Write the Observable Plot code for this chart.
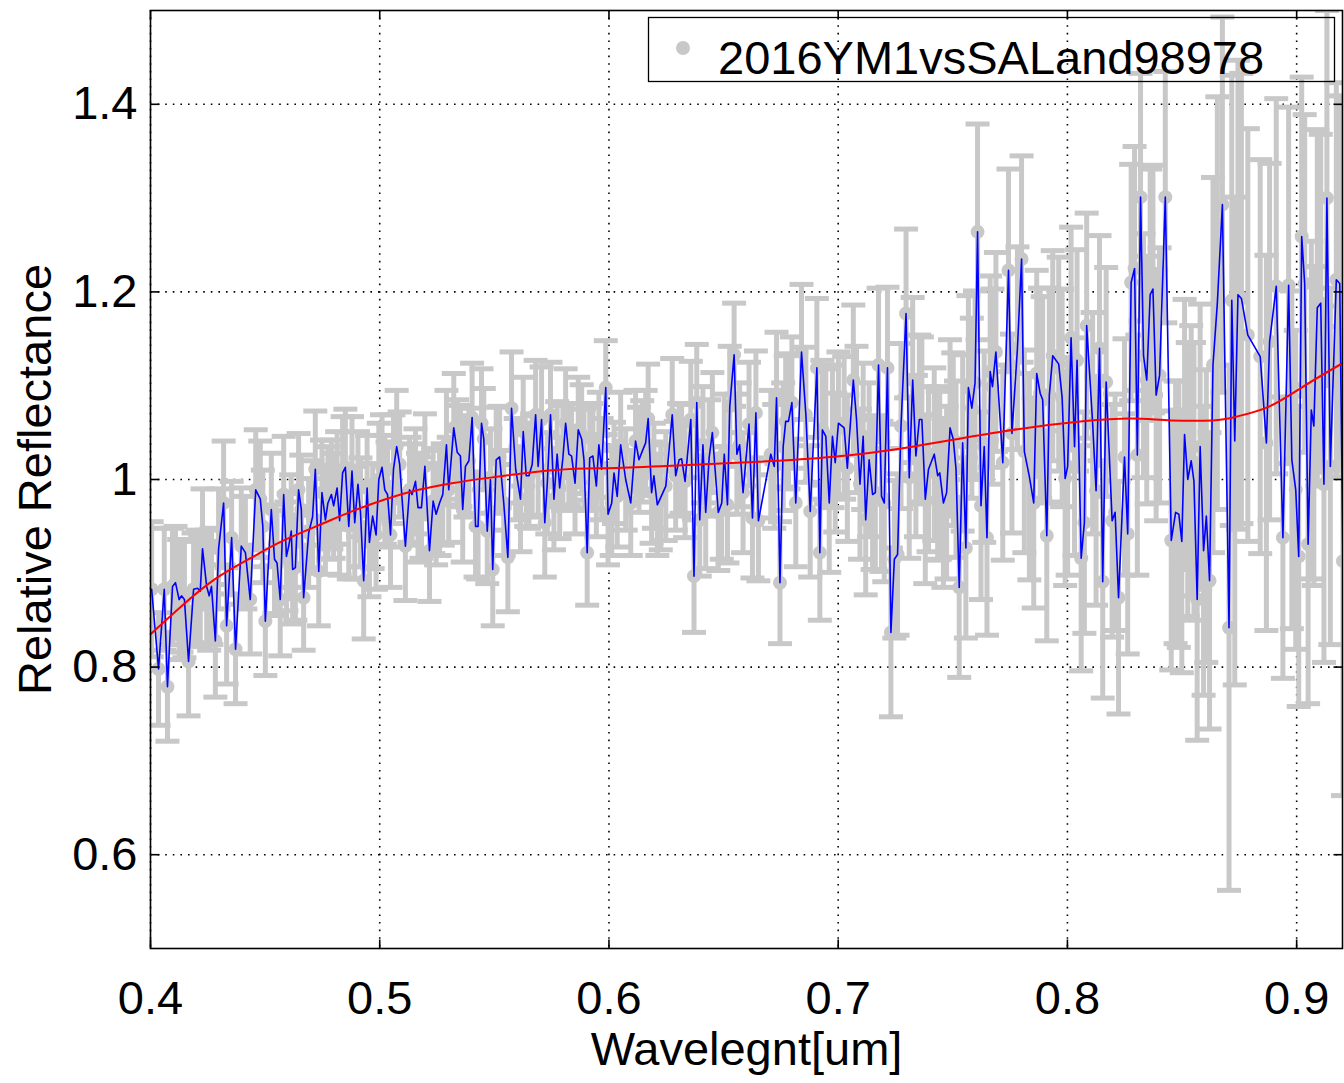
<!DOCTYPE html>
<html>
<head>
<meta charset="utf-8">
<script src="https://cdn.jsdelivr.net/npm/d3@7"></script>
<script src="https://cdn.jsdelivr.net/npm/@observablehq/plot@0.6"></script>
<style>
  html, body { margin: 0; padding: 0; background: #fff; }
  #chart { position: relative; width: 1344px; height: 1083px; }
</style>
</head>
<body>
<div id="chart"></div>
<script>
// ---- data ----
const legendLabel = "2016YM1vsSALand98978";
const xLabel = "Wavelegnt[um]";
const yLabel = "Relative Reflectance";
const xDomain = [0.4, 0.92];
const yDomain = [0.5, 1.5];
const xTicks = [0.4, 0.5, 0.6, 0.7, 0.8, 0.9];
const yTicks = [0.6, 0.8, 1.0, 1.2, 1.4];
const xTickLabels = ["0.4", "0.5", "0.6", "0.7", "0.8", "0.9"];
const yTickLabels = ["0.6", "0.8", "1", "1.2", "1.4"];

const wavelength = [
  0.4005,0.4035,0.4060,0.4074,0.4096,0.4109,0.4125,0.4135,0.4148,0.4166,
  0.4188,0.4205,0.4217,0.4227,0.4245,0.4256,0.4266,0.4283,0.4297,0.4319,
  0.4332,0.4354,0.4371,0.4396,0.4414,0.4435,0.4459,0.4479,0.4490,0.4501,
  0.4527,0.4541,0.4552,0.4566,0.4581,0.4593,0.4603,0.4614,0.4620,0.4632,
  0.4646,0.4658,0.4668,0.4690,0.4707,0.4719,0.4734,0.4748,0.4763,0.4774,
  0.4789,0.4799,0.4814,0.4825,0.4838,0.4850,0.4865,0.4879,0.4891,0.4905,
  0.4916,0.4930,0.4945,0.4955,0.4969,0.4984,0.4996,0.5010,0.5022,0.5034,
  0.5047,0.5060,0.5074,0.5087,0.5112,0.5130,0.5141,0.5156,0.5167,0.5182,
  0.5197,0.5217,0.5233,0.5246,0.5261,0.5275,0.5291,0.5301,0.5323,0.5338,
  0.5352,0.5362,0.5374,0.5389,0.5403,0.5418,0.5429,0.5444,0.5454,0.5469,
  0.5483,0.5493,0.5508,0.5523,0.5541,0.5559,0.5575,0.5593,0.5614,0.5626,
  0.5639,0.5651,0.5665,0.5680,0.5691,0.5706,0.5720,0.5731,0.5745,0.5760,
  0.5774,0.5785,0.5799,0.5811,0.5825,0.5837,0.5852,0.5866,0.5881,0.5891,
  0.5905,0.5916,0.5930,0.5945,0.5956,0.5968,0.5986,0.5996,0.6012,0.6022,
  0.6036,0.6051,0.6073,0.6095,0.6116,0.6131,0.6145,0.6160,0.6171,0.6186,
  0.6196,0.6211,0.6226,0.6248,0.6276,0.6291,0.6306,0.6317,0.6332,0.6357,
  0.6371,0.6383,0.6396,0.6410,0.6422,0.6437,0.6451,0.6477,0.6492,0.6503,
  0.6517,0.6527,0.6546,0.6558,0.6570,0.6585,0.6611,0.6626,0.6641,0.6652,
  0.6706,0.6721,0.6731,0.6746,0.6760,0.6771,0.6783,0.6798,0.6815,0.6840,
  0.6859,0.6878,0.6907,0.6920,0.6931,0.6946,0.6961,0.6975,0.6987,0.7001,
  0.7026,0.7040,0.7066,0.7080,0.7095,0.7109,0.7120,0.7135,0.7150,0.7162,
  0.7176,0.7189,0.7201,0.7215,0.7230,0.7245,0.7259,0.7274,0.7296,0.7310,
  0.7325,0.7339,0.7354,0.7365,0.7380,0.7394,0.7419,0.7434,0.7443,0.7459,
  0.7473,0.7488,0.7502,0.7514,0.7528,0.7543,0.7557,0.7568,0.7583,0.7597,
  0.7608,0.7623,0.7637,0.7649,0.7663,0.7673,0.7688,0.7718,0.7743,0.7758,
  0.7782,0.7800,0.7812,0.7834,0.7853,0.7866,0.7881,0.7892,0.7910,0.7921,
  0.7936,0.7962,0.7977,0.7990,0.8001,0.8016,0.8031,0.8042,0.8060,0.8074,
  0.8084,0.8110,0.8125,0.8140,0.8154,0.8169,0.8195,0.8208,0.8223,0.8249,
  0.8263,0.8278,0.8293,0.8305,0.8319,0.8332,0.8346,0.8361,0.8373,0.8387,
  0.8402,0.8427,0.8453,0.8472,0.8486,0.8499,0.8511,0.8525,0.8540,0.8552,
  0.8566,0.8579,0.8594,0.8606,0.8620,0.8635,0.8654,0.8676,0.8705,0.8717,
  0.8730,0.8744,0.8759,0.8787,0.8841,0.8868,0.8882,0.8911,0.8940,0.8965,
  0.8979,0.8996,0.9009,0.9022,0.9035,0.9050,0.9064,0.9075,0.9090,0.9105,
  0.9119,0.9132,0.9147,0.9173,0.9188,0.9202
];

const reflectance = [
  0.883,0.798,0.883,0.779,0.886,0.890,0.872,0.876,0.872,0.806,
  0.883,0.884,0.881,0.926,0.886,0.876,0.886,0.828,0.926,0.975,
  0.844,0.938,0.819,0.929,0.922,0.872,0.989,0.979,0.950,0.849,
  0.968,0.915,0.911,0.872,0.984,0.918,0.929,0.945,0.904,0.906,
  0.989,0.968,0.874,0.943,0.960,1.011,0.902,0.986,0.957,0.975,
  0.984,0.972,0.991,0.956,1.007,1.013,0.950,1.009,0.954,0.995,
  0.965,0.892,0.991,0.933,0.961,0.941,1.000,1.013,0.989,0.984,
  0.941,1.011,1.035,1.016,0.929,0.989,0.984,0.998,0.970,0.970,
  1.014,0.924,0.977,0.963,0.975,0.984,1.037,0.989,1.055,1.029,
  1.025,0.968,1.014,1.020,1.066,0.950,0.950,1.060,1.043,0.945,
  1.000,0.904,1.021,1.024,0.975,0.917,1.076,1.011,0.979,1.051,
  1.004,1.004,1.016,1.069,1.014,1.064,0.954,0.996,1.069,0.979,
  1.027,0.991,1.023,1.060,1.027,1.025,0.996,1.053,1.043,1.021,
  0.922,1.023,1.025,0.993,1.037,1.011,1.098,0.963,0.975,1.007,
  0.982,1.037,1.000,0.975,1.041,1.021,1.030,1.039,1.065,0.986,
  1.004,0.973,0.981,0.993,1.069,1.004,1.021,1.022,0.998,1.064,
  0.897,1.082,0.957,1.037,0.965,1.023,1.050,0.965,0.975,1.027,
  0.973,1.078,1.133,1.027,1.037,0.986,1.059,0.959,1.071,0.956,
  1.027,1.014,1.087,0.890,1.035,1.062,1.062,1.082,0.975,1.136,
  1.069,0.966,1.119,0.922,1.053,1.046,0.975,1.046,1.018,1.060,
  1.055,1.012,1.106,1.064,0.995,1.046,0.957,1.021,0.984,0.986,
  1.122,0.982,0.975,1.119,0.837,0.915,0.920,1.057,1.177,1.002,
  1.106,1.025,1.064,1.064,0.979,1.011,1.027,1.004,1.007,0.975,
  0.986,1.055,1.043,1.011,0.885,1.039,0.927,1.098,1.076,1.103,
  1.264,0.972,1.035,0.938,1.115,1.099,1.136,1.018,1.223,1.049,
  1.140,1.235,1.030,1.003,0.975,1.113,1.092,1.085,0.940,1.090,
  1.132,1.123,1.087,1.001,1.014,1.151,1.035,1.127,0.916,0.954,
  1.164,1.060,0.988,1.140,0.891,1.104,0.956,0.965,0.874,1.024,
  0.942,1.210,1.225,1.026,1.301,1.132,1.106,1.197,1.203,1.090,
  1.111,1.301,0.935,0.965,0.963,0.934,1.048,1.000,1.020,0.998,
  0.872,1.035,0.924,0.961,0.892,1.122,1.188,1.293,0.842,1.191,
  1.041,1.197,1.193,1.154,1.131,1.039,1.147,1.206,0.938,1.207,
  1.021,0.989,0.918,1.259,1.209,0.931,1.074,1.057,1.183,1.188,
  0.995,1.300,1.014,1.213,1.209,0.913
];

const uncertainty = [
  0.072,0.060,0.065,0.058,0.062,0.060,0.064,0.060,0.062,0.058,
  0.060,0.062,0.058,0.064,0.060,0.058,0.062,0.060,0.064,0.066,
  0.062,0.060,0.058,0.062,0.060,0.058,0.064,0.062,0.060,0.058,
  0.060,0.058,0.056,0.060,0.062,0.058,0.056,0.060,0.058,0.056,
  0.060,0.058,0.056,0.058,0.060,0.062,0.058,0.056,0.058,0.060,
  0.058,0.056,0.060,0.058,0.060,0.062,0.056,0.058,0.060,0.056,
  0.058,0.062,0.056,0.058,0.056,0.058,0.060,0.056,0.058,0.056,
  0.056,0.058,0.060,0.056,0.058,0.056,0.054,0.056,0.058,0.054,
  0.056,0.054,0.056,0.054,0.056,0.054,0.058,0.056,0.058,0.056,
  0.054,0.056,0.054,0.056,0.058,0.054,0.056,0.058,0.054,0.056,
  0.054,0.060,0.056,0.054,0.056,0.058,0.060,0.054,0.056,0.058,
  0.054,0.056,0.054,0.058,0.054,0.056,0.058,0.054,0.056,0.054,
  0.056,0.054,0.056,0.058,0.054,0.056,0.054,0.056,0.058,0.054,
  0.056,0.054,0.056,0.054,0.056,0.054,0.050,0.054,0.056,0.054,
  0.054,0.056,0.054,0.056,0.054,0.056,0.054,0.056,0.058,0.054,
  0.056,0.054,0.056,0.058,0.060,0.058,0.060,0.058,0.060,0.062,
  0.060,0.062,0.060,0.062,0.060,0.062,0.064,0.062,0.060,0.064,
  0.062,0.064,0.055,0.064,0.066,0.064,0.066,0.064,0.066,0.064,
  0.068,0.066,0.070,0.065,0.068,0.070,0.072,0.070,0.068,0.072,
  0.072,0.070,0.074,0.072,0.074,0.072,0.074,0.076,0.074,0.076,
  0.076,0.078,0.080,0.078,0.080,0.078,0.080,0.082,0.080,0.082,
  0.082,0.080,0.084,0.086,0.090,0.084,0.086,0.088,0.090,0.086,
  0.088,0.086,0.090,0.088,0.090,0.088,0.092,0.090,0.092,0.090,
  0.092,0.094,0.092,0.094,0.096,0.094,0.096,0.098,0.096,0.098,
  0.115,0.100,0.102,0.104,0.102,0.104,0.106,0.104,0.108,0.106,
  0.108,0.110,0.108,0.110,0.112,0.110,0.112,0.110,0.112,0.114,
  0.112,0.114,0.116,0.114,0.116,0.118,0.116,0.118,0.120,0.118,
  0.120,0.118,0.122,0.120,0.124,0.122,0.124,0.126,0.124,0.126,
  0.128,0.126,0.130,0.128,0.132,0.130,0.132,0.134,0.132,0.134,
  0.136,0.134,0.138,0.140,0.142,0.140,0.144,0.146,0.144,0.148,
  0.150,0.152,0.154,0.156,0.158,0.200,0.220,0.200,0.280,0.240,
  0.260,0.250,0.240,0.220,0.210,0.200,0.190,0.200,0.150,0.190,
  0.180,0.170,0.160,0.170,0.180,0.170,0.180,0.170,0.190,0.180,
  0.190,0.200,0.190,0.210,0.200,0.250
];

// smooth fit curve (red), read at several wavelengths
const fitWavelength = [0.4000,0.4135,0.4283,0.4428,0.4572,0.4741,0.4878,0.5025,0.5170,0.5314,
  0.5483,0.5767,0.5986,0.6226,0.6582,0.6968,0.7324,0.7710,0.8067,0.8284,0.8453,0.8633,0.8737,0.8882,0.9028,0.9200];
const fitReflectance = [0.835,0.865,0.894,0.915,0.934,0.952,0.966,0.979,0.989,0.996,
  1.002,1.010,1.012,1.014,1.018,1.024,1.035,1.051,1.062,1.065,1.063,1.063,1.067,1.078,1.099,1.124];

// ---- build tables ----
const n = Math.min(wavelength.length, reflectance.length, uncertainty.length);
const spectrum = d3.range(n).map(i => ({x: wavelength[i], y: reflectance[i], e: uncertainty[i]}));
const fit = fitWavelength.map((x, i) => ({x, y: fitReflectance[i]}));

// ---- styles ----
const FONT = "'Liberation Sans', Arial, Helvetica, sans-serif";
const GRAY = "#c8c8c8";
const capSymbol = {draw(c) { c.moveTo(-12, 0); c.lineTo(12, 0); }};
const tickUp = {draw(c) { c.moveTo(0, 0); c.lineTo(0, -9); }};
const tickDown = {draw(c) { c.moveTo(0, 0); c.lineTo(0, 9); }};
const tickRight = {draw(c) { c.moveTo(0, 0); c.lineTo(9, 0); }};
const tickLeft = {draw(c) { c.moveTo(0, 0); c.lineTo(-9, 0); }};

const chart = Plot.plot({
  width: 1344,
  height: 1083,
  marginLeft: 150,
  marginRight: 2,
  marginTop: 10,
  marginBottom: 135,
  style: {fontFamily: FONT, fontSize: "47px", background: "#fff", color: "#000", overflow: "visible"},
  x: {domain: xDomain},
  y: {domain: yDomain},
  marks: [
    Plot.gridX(xTicks, {stroke: "#000", strokeOpacity: 1, strokeWidth: 1.6, strokeDasharray: "1.6,6"}),
    Plot.gridY(yTicks, {stroke: "#000", strokeOpacity: 1, strokeWidth: 1.6, strokeDasharray: "1.6,6"}),
    Plot.ruleX(spectrum, {x: "x", y1: d => d.y - d.e, y2: d => d.y + d.e, stroke: GRAY, strokeWidth: 5, clip: true}),
    Plot.dot(spectrum, {x: "x", y: d => d.y - d.e, symbol: capSymbol, stroke: GRAY, strokeWidth: 5, fill: "none", clip: true}),
    Plot.dot(spectrum, {x: "x", y: d => d.y + d.e, symbol: capSymbol, stroke: GRAY, strokeWidth: 5, fill: "none", clip: true}),
    Plot.dot(spectrum, {x: "x", y: "y", r: 7, fill: GRAY, stroke: "none", clip: true}),
    Plot.line(spectrum, {x: "x", y: "y", stroke: "#0000ff", strokeWidth: 1.6, clip: true}),
    Plot.line(fit, {x: "x", y: "y", stroke: "#ff0000", strokeWidth: 2, curve: "natural", clip: true}),
    Plot.frame({stroke: "#000", strokeWidth: 1.6}),
    Plot.dot(xTicks, {x: d => d, y: () => yDomain[0], symbol: tickUp, stroke: "#000", strokeWidth: 1.6}),
    Plot.dot(xTicks, {x: d => d, y: () => yDomain[1], symbol: tickDown, stroke: "#000", strokeWidth: 1.6}),
    Plot.dot(yTicks, {y: d => d, x: () => xDomain[0], symbol: tickRight, stroke: "#000", strokeWidth: 1.6}),
    Plot.dot(yTicks, {y: d => d, x: () => xDomain[1], symbol: tickLeft, stroke: "#000", strokeWidth: 1.6}),
    Plot.axisX(xTicks, {tickSize: 0, tickPadding: 32, fontSize: 47, label: null,
      tickFormat: (d, i) => xTickLabels[i]}),
    Plot.axisY(yTicks, {tickSize: 0, tickPadding: 13, fontSize: 47, label: null,
      tickFormat: (d, i) => yTickLabels[i]}),
    Plot.text([xLabel], {text: d => d, frameAnchor: "bottom", dy: 116, fontSize: 47, fill: "#000", textAnchor: "middle"}),
    Plot.text([yLabel], {text: d => d, frameAnchor: "left", dx: -115, rotate: -90, fontSize: 47, fill: "#000", textAnchor: "middle"})
  ]
});

document.getElementById("chart").appendChild(chart);

// legend box drawn inside the plot SVG
const svg = d3.select(chart);
const lg = svg.append("g").attr("class", "legend");
lg.append("rect")
  .attr("x", 648.5).attr("y", 17.5).attr("width", 686).attr("height", 64)
  .attr("fill", "none").attr("stroke", "#000").attr("stroke-width", 1.3);
lg.append("circle").attr("cx", 683).attr("cy", 48).attr("r", 7).attr("fill", GRAY);
lg.append("text")
  .attr("x", 718).attr("y", 74)
  .attr("text-anchor", "start")
  .attr("font-family", FONT).attr("font-size", 47).attr("fill", "#000")
  .text(legendLabel);
</script>
</body>
</html>
